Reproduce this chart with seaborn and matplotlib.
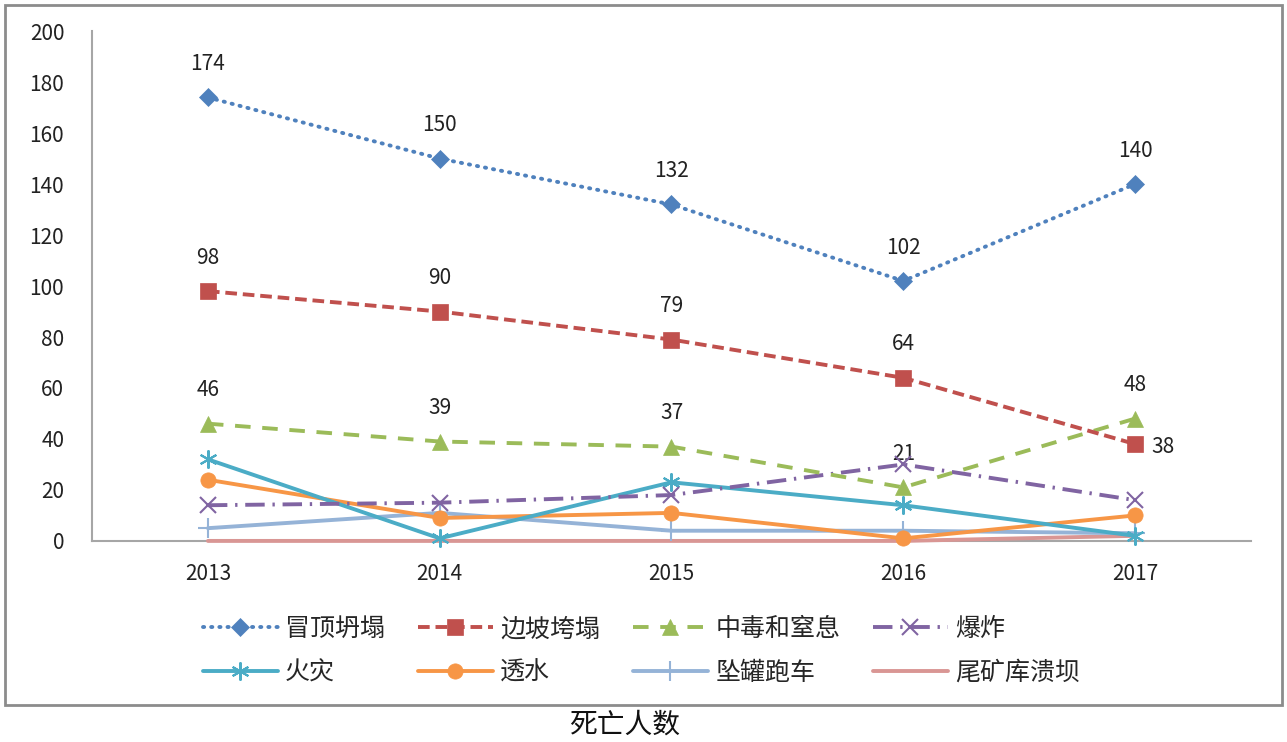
import matplotlib
matplotlib.use("Agg")
import matplotlib.pyplot as plt
import seaborn as sns
from matplotlib.patches import Rectangle

# ─────────────────────────────────────────────
# DATA
# ─────────────────────────────────────────────
YEARS = [2013, 2014, 2015, 2016, 2017]

SERIES_NAMES = ["冒顶坍塌", "边坡垮塌", "中毒和窒息", "爆炸",
                "火灾", "透水", "坠罐跑车", "尾矿库溃坝"]

ROOF_FALL   = [174, 150, 132, 102, 140]
SLOPE_SLIDE = [98, 90, 79, 64, 38]
POISONING   = [46, 39, 37, 21, 48]
EXPLOSION   = [14, 15, 18, 30, 16]
FIRE        = [32, 1, 23, 14, 2]
FLOODING    = [24, 9, 11, 1, 10]
HOIST       = [5, 11, 4, 4, 3]
TAILINGS    = [0, 0, 0, 0, 2]

VALUES = [ROOF_FALL, SLOPE_SLIDE, POISONING, EXPLOSION,
          FIRE, FLOODING, HOIST, TAILINGS]
LABELLED = ["冒顶坍塌", "边坡垮塌", "中毒和窒息"]

CAPTION = "死亡人数"

# ─────────────────────────────────────────────
# STYLE
# ─────────────────────────────────────────────
COLORS  = ["#4F81BD", "#C0504D", "#9BBB59", "#8064A2",
           "#4BACC6", "#F79646", "#95B3D7", "#D99694"]
DASHES  = [(0.3, 1.8), (3, 1.5), (4, 3), (5, 2, 0.6, 2),
           (), (), (), ()]
MARKERS = ["D", "s", "^", "x", (6, 2, 0), "o", "+", None]
MSIZES  = [9, 11, 11, 11, 13, 11, 14, 0]

sns.set_theme(style="white")
plt.rcParams["font.family"] = ["Noto Sans CJK SC", "DejaVu Sans"]

fig = plt.figure(figsize=(12.87, 7.42), dpi=100)
ax = fig.add_axes([0.0715, 0.271, 0.9005, 0.687])

for k, (name, vals, c, d, m, ms) in enumerate(zip(SERIES_NAMES, VALUES, COLORS, DASHES, MARKERS, MSIZES)):
    sns.lineplot(x=YEARS, y=vals, ax=ax, color=c, linewidth=2.8,
                 label=name, marker=m, markersize=ms,
                 markeredgecolor=c, markeredgewidth=1.5 if m in ("x", "+", (6, 2, 0)) else 0.5,
                 dashes=False)
    line = ax.lines[-1]
    line.set_clip_on(False)
    line.set_zorder(3 + (8 - k) * 0.1)
    if d:
        line.set_dashes(d)
        line.set_dash_capstyle("round" if name == "冒顶坍塌" else "butt")

# value labels for the top three series
for name, vals in zip(SERIES_NAMES, VALUES):
    if name not in LABELLED:
        continue
    for i, (x, y) in enumerate(zip(YEARS, vals)):
        if name == "边坡垮塌" and i == len(YEARS) - 1:
            ax.annotate(str(y), (x, y), xytext=(12, -2), textcoords="offset points",
                        ha="left", va="center", fontsize=15, color="#222222")
        else:
            ax.annotate(str(y), (x, y), xytext=(0, 24), textcoords="offset points",
                        ha="center", va="center", fontsize=15, color="#222222")

ax.set_xlim(YEARS[0] - 0.5, YEARS[-1] + 0.5)
ax.set_ylim(0, 200)
ax.set_xticks(YEARS)
ax.set_xticklabels([str(y) for y in YEARS])
ax.set_yticks(range(0, 201, 20))
ax.tick_params(axis="both", labelsize=15, colors="#222222", length=0)
ax.tick_params(axis="y", pad=20)
ax.tick_params(axis="x", pad=16)
ax.set_xlabel("")
ax.set_ylabel("")

for side in ("top", "right"):
    ax.spines[side].set_visible(False)
for side in ("left", "bottom"):
    ax.spines[side].set_color("#A6A6A6")
    ax.spines[side].set_linewidth(1.5)
    ax.spines[side].set_zorder(1)

# legend: row-major order across 4 columns
ax.legend_.remove()
handles, labels = ax.get_legend_handles_labels()
order = [0, 4, 1, 5, 2, 6, 3, 7]
fig.legend([handles[i] for i in order], [labels[i] for i in order],
           ncol=4, loc="upper left",
           bbox_to_anchor=(0.14, 0.2), frameon=False,
           fontsize=18, handlelength=3.0, handletextpad=0.3,
           columnspacing=1.3, labelspacing=0.7)

# outer frame and caption
fig.add_artist(Rectangle((5 / 1287, 1 - 705 / 742), 1277 / 1287, 700 / 742,
                         transform=fig.transFigure, fill=False,
                         edgecolor="#8C8C8C", linewidth=2))
fig.text(0.485, 1 - 725 / 742, CAPTION, ha="center", va="center",
         fontsize=20, color="#111111")

fig.savefig("out.png", dpi=100)
